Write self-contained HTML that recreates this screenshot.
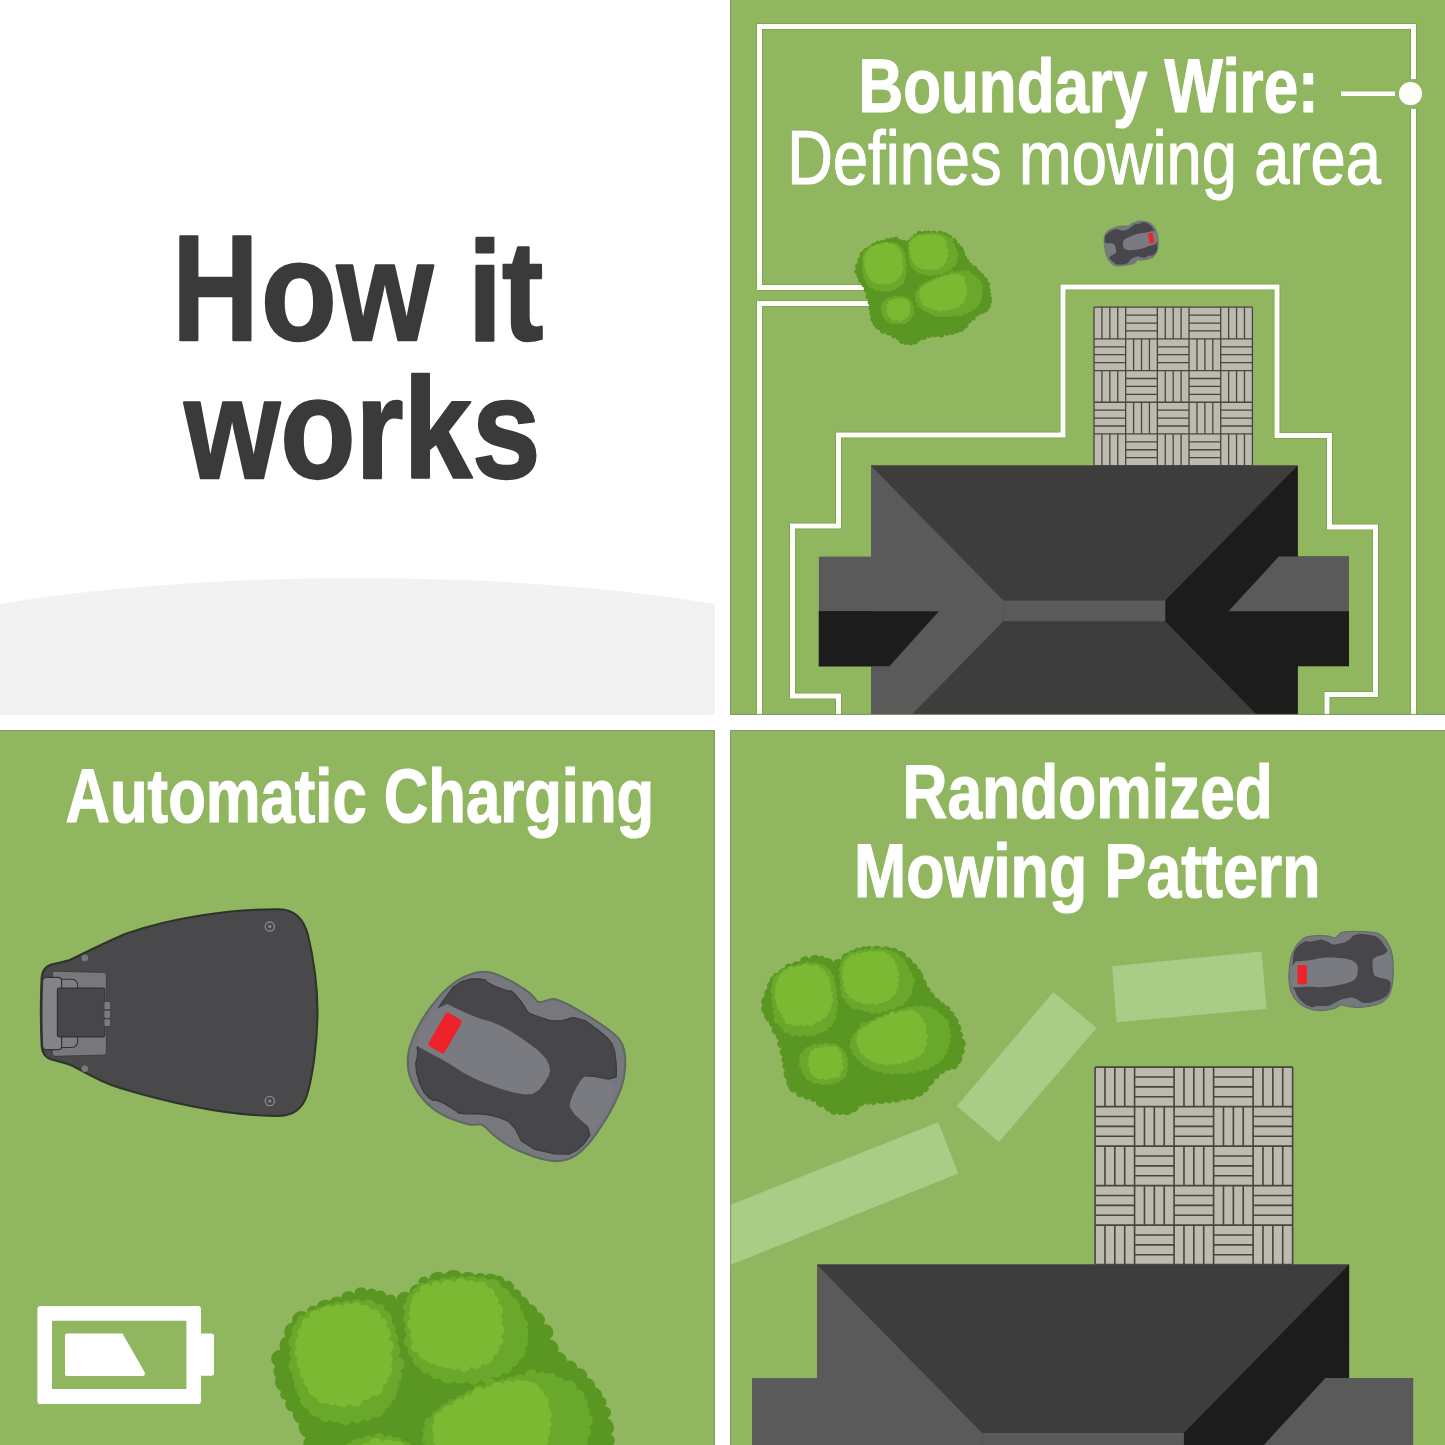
<!DOCTYPE html>
<html><head><meta charset="utf-8"><style>
html,body{margin:0;padding:0;background:#fff;}
svg{display:block;}
</style></head><body>
<svg width="1445" height="1445" viewBox="0 0 1445 1445">
<defs>
<clipPath id="cTL"><rect x="0" y="0" width="715" height="715"/></clipPath>
<clipPath id="cTR"><rect x="730" y="0" width="715" height="715"/></clipPath>
<clipPath id="cBL"><rect x="0" y="730" width="715" height="715"/></clipPath>
<clipPath id="cBR"><rect x="730" y="730" width="715" height="715"/></clipPath>
</defs>
<rect width="1445" height="1445" fill="#ffffff"/>

<!-- top-left -->
<g clip-path="url(#cTL)">
<ellipse cx="357" cy="710" rx="600" ry="132" fill="#f2f2f2"/>
<text transform="translate(172.13,340.00) scale(0.8079,1.0200)" font-family="Liberation Sans" font-weight="bold" font-size="148" fill="#3a3a3a" stroke="#3a3a3a" stroke-width="2.4" stroke-linejoin="round" >H</text>
<text transform="translate(261.01,340.00) scale(0.8378,0.9520)" font-family="Liberation Sans" font-weight="bold" font-size="148" fill="#3a3a3a" stroke="#3a3a3a" stroke-width="2.4" stroke-linejoin="round" >ow it</text>
<text transform="translate(184.36,477.80) scale(0.8325,0.9620)" font-family="Liberation Sans" font-weight="bold" font-size="148" fill="#3a3a3a" stroke="#3a3a3a" stroke-width="2.4" stroke-linejoin="round" >works</text>
</g>

<!-- top-right -->
<g clip-path="url(#cTR)">
<rect x="730" y="0" width="715" height="715" fill="#90b660"/>
<g transform="translate(871,465.6)">
<g>
<rect x="0" y="0" width="426.7" height="290.8" fill="#3d3d3d"/>
<rect x="-52.1" y="91" width="70" height="109.7" fill="#5a5a5a"/>
<polygon points="-52.1,145.6 67.9,145.6 18.4,200.7 -52.1,200.7" fill="#1c1c1c"/>
<rect x="400" y="91" width="78" height="109.7" fill="#1c1c1c"/>
<polygon points="0,0 132.6,135 132.6,155.7 0,290.8" fill="#5a5a5a"/>
<polygon points="0,0 426.7,0 294.2,135 132.6,135" fill="#3d3d3d"/>
<polygon points="132.6,155.7 294.2,155.7 426.7,290.8 0,290.8" fill="#3d3d3d"/>
<polygon points="426.7,0 294.2,135 294.2,155.7 426.7,290.8" fill="#1c1c1c"/>
<rect x="132.6" y="135" width="161.6" height="20.7" fill="#5a5a5a"/>
<polygon points="-52.1,145.6 67.9,145.6 18.4,200.7 -52.1,200.7" fill="#1c1c1c"/>
<polygon points="407.7,91 478,91 478,145.6 357.5,145.6" fill="#5a5a5a"/>
<rect x="223" y="-158.4" width="158.4" height="158.4" fill="#bdbbb0"/>
<path d="M230.92,-158.40V-126.72M238.84,-158.40V-126.72M246.76,-158.40V-126.72M254.68,-150.48H286.36M254.68,-142.56H286.36M254.68,-134.64H286.36M294.28,-158.40V-126.72M302.20,-158.40V-126.72M310.12,-158.40V-126.72M318.04,-150.48H349.72M318.04,-142.56H349.72M318.04,-134.64H349.72M357.64,-158.40V-126.72M365.56,-158.40V-126.72M373.48,-158.40V-126.72M223.00,-118.80H254.68M223.00,-110.88H254.68M223.00,-102.96H254.68M262.60,-126.72V-95.04M270.52,-126.72V-95.04M278.44,-126.72V-95.04M286.36,-118.80H318.04M286.36,-110.88H318.04M286.36,-102.96H318.04M325.96,-126.72V-95.04M333.88,-126.72V-95.04M341.80,-126.72V-95.04M349.72,-118.80H381.40M349.72,-110.88H381.40M349.72,-102.96H381.40M230.92,-95.04V-63.36M238.84,-95.04V-63.36M246.76,-95.04V-63.36M254.68,-87.12H286.36M254.68,-79.20H286.36M254.68,-71.28H286.36M294.28,-95.04V-63.36M302.20,-95.04V-63.36M310.12,-95.04V-63.36M318.04,-87.12H349.72M318.04,-79.20H349.72M318.04,-71.28H349.72M357.64,-95.04V-63.36M365.56,-95.04V-63.36M373.48,-95.04V-63.36M223.00,-55.44H254.68M223.00,-47.52H254.68M223.00,-39.60H254.68M262.60,-63.36V-31.68M270.52,-63.36V-31.68M278.44,-63.36V-31.68M286.36,-55.44H318.04M286.36,-47.52H318.04M286.36,-39.60H318.04M325.96,-63.36V-31.68M333.88,-63.36V-31.68M341.80,-63.36V-31.68M349.72,-55.44H381.40M349.72,-47.52H381.40M349.72,-39.60H381.40M230.92,-31.68V-0.00M238.84,-31.68V-0.00M246.76,-31.68V-0.00M254.68,-23.76H286.36M254.68,-15.84H286.36M254.68,-7.92H286.36M294.28,-31.68V-0.00M302.20,-31.68V-0.00M310.12,-31.68V-0.00M318.04,-23.76H349.72M318.04,-15.84H349.72M318.04,-7.92H349.72M357.64,-31.68V-0.00M365.56,-31.68V-0.00M373.48,-31.68V-0.00M223.00,-158.40V0.00M223.00,-158.40H381.40M254.68,-158.40V0.00M223.00,-126.72H381.40M286.36,-158.40V0.00M223.00,-95.04H381.40M318.04,-158.40V0.00M223.00,-63.36H381.40M349.72,-158.40V0.00M223.00,-31.68H381.40M381.40,-158.40V0.00M223.00,0.00H381.40" stroke="#46453f" stroke-width="1.3" fill="none"/>
</g></g>
<path d="M759.5,288 V26.5 H1413.5 V79 M1413.5,109 V716 M757,287.5 H880 M880,303.5 H759.5 V716 M838.5,716 V696 H792.5 V526 H838.5 V435 H1063 V287 H1277 V435.5 H1329.5 V527 H1375.5 V694.5 H1327 V716" fill="none" stroke="#7d9f55" stroke-width="6.6" stroke-linejoin="miter"/><path d="M759.5,288 V26.5 H1413.5 V79 M1413.5,109 V716 M757,287.5 H880 M880,303.5 H759.5 V716 M838.5,716 V696 H792.5 V526 H838.5 V435 H1063 V287 H1277 V435.5 H1329.5 V527 H1375.5 V694.5 H1327 V716" fill="none" stroke="#fdfef8" stroke-width="5" stroke-linejoin="miter"/><path d="M1341,93.8 H1395" stroke="#fdfef8" stroke-width="4.5"/><circle cx="1410.5" cy="93.6" r="12.2" fill="#fdfef8" stroke="#7d9f55" stroke-width="0.8"/>
<g transform="translate(854.7,230) scale(0.673)"><path fill="#5a9622" d="M12.5,31.3A4.1,4.1 0 0 1 18.4,27.3A3.8,3.8 0 0 1 23.7,23.7A5.8,5.8 0 0 1 31.1,19.3A3.0,3.0 0 0 1 36.9,17.8A5.0,5.0 0 0 1 44.7,15.6A4.0,4.0 0 0 1 51.8,13.6A3.1,3.1 0 0 1 57.5,12.1A3.9,3.9 0 0 1 65.0,13.6A4.0,4.0 0 0 1 70.2,16.0A4.0,4.0 0 0 1 77.2,18.9A3.3,3.3 0 0 1 81.4,14.7A3.6,3.6 0 0 1 85.6,10.4A5.3,5.3 0 0 1 91.6,6.0A5.0,5.0 0 0 1 100.8,3.3A3.7,3.7 0 0 1 106.8,2.3A4.3,4.3 0 0 1 113.5,2.6A6.2,6.2 0 0 1 122.1,3.0A7.2,7.2 0 0 1 132.2,3.6A5.7,5.7 0 0 1 139.3,7.2A4.3,4.3 0 0 1 144.9,12.2A6.2,6.2 0 0 1 152.4,19.3A3.4,3.4 0 0 1 156.5,23.4A6.7,6.7 0 0 1 161.8,31.0A5.1,5.1 0 0 1 163.2,37.9A3.4,3.4 0 0 1 166.6,43.1A3.4,3.4 0 0 1 170.1,48.2A3.9,3.9 0 0 1 174.8,53.3A5.3,5.3 0 0 1 182.5,59.0A4.0,4.0 0 0 1 187.1,63.5A5.4,5.4 0 0 1 192.6,69.8A4.8,4.8 0 0 1 197.2,76.9A3.7,3.7 0 0 1 198.8,84.1A5.0,5.0 0 0 1 200.7,92.1A3.5,3.5 0 0 1 201.9,97.9A3.8,3.8 0 0 1 203.2,103.6A4.7,4.7 0 0 1 201.6,109.8A6.0,6.0 0 0 1 198.2,118.0A4.3,4.3 0 0 1 193.2,122.6A4.7,4.7 0 0 1 186.3,124.1A5.4,5.4 0 0 1 179.4,128.3A4.0,4.0 0 0 1 173.9,133.8A5.1,5.1 0 0 1 169.2,139.0A6.5,6.5 0 0 1 163.5,146.6A6.1,6.1 0 0 1 156.2,150.9A4.7,4.7 0 0 1 149.7,152.6A5.0,5.0 0 0 1 141.5,154.5A4.9,4.9 0 0 1 133.5,155.6A5.2,5.2 0 0 1 123.8,157.0A6.0,6.0 0 0 1 114.7,157.7A3.6,3.6 0 0 1 107.8,158.2A5.1,5.1 0 0 1 98.5,161.3A3.4,3.4 0 0 1 93.8,165.4A3.9,3.9 0 0 1 87.7,169.3A5.4,5.4 0 0 1 78.5,168.5A3.2,3.2 0 0 1 72.2,168.0A3.9,3.9 0 0 1 65.9,163.6A3.1,3.1 0 0 1 61.5,159.7A4.5,4.5 0 0 1 54.0,155.5A5.5,5.5 0 0 1 45.3,152.3A4.2,4.2 0 0 1 37.9,148.5A7.0,7.0 0 0 1 29.8,143.1A4.3,4.3 0 0 1 26.9,137.1A4.8,4.8 0 0 1 25.0,128.3A4.8,4.8 0 0 1 23.2,120.1A4.9,4.9 0 0 1 22.0,111.8A4.6,4.6 0 0 1 20.9,104.1A5.0,5.0 0 0 1 18.3,94.9A7.2,7.2 0 0 1 13.7,85.9A5.9,5.9 0 0 1 9.7,79.1A5.4,5.4 0 0 1 5.3,71.5A3.6,3.6 0 0 1 3.0,66.2A4.6,4.6 0 0 1 2.3,57.4A4.6,4.6 0 0 1 5.1,49.1A6.1,6.1 0 0 1 8.5,39.4A5.1,5.1 0 0 1 12.5,31.3Z"/>
<path fill="#6aa82b" d="M19.7,27.4A4.7,4.7 0 0 1 27.2,23.6A3.7,3.7 0 0 1 32.5,21.8A3.7,3.7 0 0 1 37.3,20.5A5.4,5.4 0 0 1 46.1,19.4A5.2,5.2 0 0 1 53.2,19.1A4.1,4.1 0 0 1 58.7,19.8A5.2,5.2 0 0 1 65.2,22.6A2.9,2.9 0 0 1 68.6,26.1A3.9,3.9 0 0 1 71.9,32.3A5.0,5.0 0 0 1 74.1,41.0A4.7,4.7 0 0 1 75.3,49.5A4.3,4.3 0 0 1 75.7,57.3A3.9,3.9 0 0 1 76.0,63.3A4.7,4.7 0 0 1 74.8,69.6A3.9,3.9 0 0 1 73.5,75.0A5.0,5.0 0 0 1 69.0,81.8A4.7,4.7 0 0 1 63.0,85.7A5.7,5.7 0 0 1 55.4,88.5A3.3,3.3 0 0 1 49.4,90.1A3.9,3.9 0 0 1 43.5,90.1A6.0,6.0 0 0 1 35.3,89.3A6.3,6.3 0 0 1 26.7,86.8A5.8,5.8 0 0 1 20.2,81.3A5.0,5.0 0 0 1 16.4,74.1A4.5,4.5 0 0 1 13.8,66.2A5.6,5.6 0 0 1 12.3,58.4A3.4,3.4 0 0 1 12.2,52.5A5.0,5.0 0 0 1 12.2,45.5A4.7,4.7 0 0 1 12.6,39.1A3.0,3.0 0 0 1 13.4,34.2A2.9,2.9 0 0 1 16.2,30.2A3.4,3.4 0 0 1 19.7,27.4Z M86.5,10.8A4.9,4.9 0 0 1 93.8,7.8A3.6,3.6 0 0 1 99.3,6.5A3.9,3.9 0 0 1 104.6,5.6A3.3,3.3 0 0 1 110.1,5.1A6.3,6.3 0 0 1 118.8,4.6A5.2,5.2 0 0 1 126.9,5.9A3.5,3.5 0 0 1 132.3,7.3A5.3,5.3 0 0 1 139.2,12.0A4.5,4.5 0 0 1 145.0,18.9A4.6,4.6 0 0 1 148.6,25.6A3.5,3.5 0 0 1 151.1,31.4A3.6,3.6 0 0 1 151.9,38.6A3.8,3.8 0 0 1 151.5,43.9A2.7,2.7 0 0 1 150.3,48.7A5.5,5.5 0 0 1 145.1,55.9A5.1,5.1 0 0 1 138.9,60.1A4.5,4.5 0 0 1 132.5,63.1A5.1,5.1 0 0 1 123.9,65.3A4.2,4.2 0 0 1 117.3,66.0A5.5,5.5 0 0 1 108.7,66.5A5.8,5.8 0 0 1 100.6,64.6A3.0,3.0 0 0 1 95.2,62.7A3.8,3.8 0 0 1 90.1,59.6A3.3,3.3 0 0 1 85.9,55.4A3.4,3.4 0 0 1 83.1,50.2A5.0,5.0 0 0 1 81.2,43.2A3.8,3.8 0 0 1 80.6,37.3A4.3,4.3 0 0 1 80.0,30.6A3.8,3.8 0 0 1 80.0,25.2A6.3,6.3 0 0 1 81.3,16.6A4.8,4.8 0 0 1 86.5,10.8Z M95.2,87.5A4.0,4.0 0 0 1 100.8,82.5A4.2,4.2 0 0 1 106.5,78.5A4.4,4.4 0 0 1 112.8,75.4A4.6,4.6 0 0 1 119.9,72.1A3.7,3.7 0 0 1 126.3,69.8A4.1,4.1 0 0 1 133.1,67.6A4.7,4.7 0 0 1 139.6,65.4A4.5,4.5 0 0 1 148.2,63.2A5.0,5.0 0 0 1 155.9,62.1A5.1,5.1 0 0 1 164.3,62.1A4.5,4.5 0 0 1 172.5,65.3A3.5,3.5 0 0 1 177.7,68.2A4.7,4.7 0 0 1 183.3,72.9A5.4,5.4 0 0 1 187.5,80.4A4.3,4.3 0 0 1 188.9,88.6A4.1,4.1 0 0 1 188.9,94.0A3.7,3.7 0 0 1 188.0,99.3A5.0,5.0 0 0 1 186.3,105.9A2.7,2.7 0 0 1 183.6,110.3A3.3,3.3 0 0 1 180.1,115.0A2.7,2.7 0 0 1 175.9,118.0A5.3,5.3 0 0 1 169.2,121.8A4.7,4.7 0 0 1 161.5,124.5A4.6,4.6 0 0 1 153.1,126.3A3.4,3.4 0 0 1 147.6,127.2A5.7,5.7 0 0 1 139.7,127.7A5.4,5.4 0 0 1 132.0,127.7A3.1,3.1 0 0 1 126.6,127.5A4.6,4.6 0 0 1 118.1,125.8A6.5,6.5 0 0 1 109.8,122.6A3.7,3.7 0 0 1 104.7,119.8A6.0,6.0 0 0 1 97.7,114.3A3.4,3.4 0 0 1 93.7,109.1A3.5,3.5 0 0 1 91.0,102.8A5.9,5.9 0 0 1 91.2,93.9A4.6,4.6 0 0 1 95.2,87.5Z M43.0,106.4A3.0,3.0 0 0 1 47.1,103.3A6.0,6.0 0 0 1 55.3,100.5A4.3,4.3 0 0 1 62.8,99.6A5.2,5.2 0 0 1 71.1,99.6A2.8,2.8 0 0 1 76.0,101.2A4.7,4.7 0 0 1 82.4,106.0A2.6,2.6 0 0 1 84.7,110.7A4.8,4.8 0 0 1 86.4,119.0A3.4,3.4 0 0 1 85.9,125.8A4.2,4.2 0 0 1 83.5,131.5A4.4,4.4 0 0 1 78.1,135.8A4.8,4.8 0 0 1 69.7,138.0A3.7,3.7 0 0 1 63.7,138.5A4.0,4.0 0 0 1 58.3,138.1A3.7,3.7 0 0 1 51.5,136.4A4.1,4.1 0 0 1 46.4,133.5A3.3,3.3 0 0 1 43.4,129.1A3.4,3.4 0 0 1 41.2,124.0A3.6,3.6 0 0 1 40.0,119.1A3.4,3.4 0 0 1 40.0,113.3A4.7,4.7 0 0 1 43.0,106.4Z"/>
<path fill="#7bb933" d="M22.5,28.4A5.4,5.4 0 0 1 28.6,24.6A4.8,4.8 0 0 1 36.6,22.1A3.5,3.5 0 0 1 42.5,21.4A3.9,3.9 0 0 1 50.2,21.0A4.3,4.3 0 0 1 57.4,22.3A4.3,4.3 0 0 1 63.1,26.3A3.8,3.8 0 0 1 66.7,31.2A3.2,3.2 0 0 1 68.4,36.9A3.0,3.0 0 0 1 69.4,41.5A2.5,2.5 0 0 1 70.2,46.5A2.7,2.7 0 0 1 70.6,51.3A3.9,3.9 0 0 1 70.6,58.7A3.3,3.3 0 0 1 69.2,64.1A2.6,2.6 0 0 1 66.5,68.4A2.5,2.5 0 0 1 63.5,72.2A4.5,4.5 0 0 1 56.8,76.3A4.4,4.4 0 0 1 49.2,78.7A4.6,4.6 0 0 1 42.2,79.7A3.6,3.6 0 0 1 36.6,79.9A3.8,3.8 0 0 1 31.3,78.4A3.7,3.7 0 0 1 26.5,75.6A4.3,4.3 0 0 1 22.2,71.1A3.7,3.7 0 0 1 19.9,66.4A3.7,3.7 0 0 1 17.6,60.6A3.2,3.2 0 0 1 16.0,55.2A6.2,6.2 0 0 1 15.3,47.0A4.5,4.5 0 0 1 16.1,38.7A4.5,4.5 0 0 1 18.7,32.6A3.8,3.8 0 0 1 22.5,28.4Z M88.3,13.1A2.9,2.9 0 0 1 92.6,11.2A3.9,3.9 0 0 1 100.0,9.0A5.6,5.6 0 0 1 108.0,7.7A4.8,4.8 0 0 1 115.0,7.3A4.6,4.6 0 0 1 122.2,8.0A4.7,4.7 0 0 1 129.1,10.9A3.4,3.4 0 0 1 132.6,14.7A3.4,3.4 0 0 1 135.0,20.8A4.4,4.4 0 0 1 136.3,27.1A4.4,4.4 0 0 1 137.0,34.9A4.0,4.0 0 0 1 136.1,42.5A4.4,4.4 0 0 1 133.1,49.6A4.6,4.6 0 0 1 128.1,54.1A4.4,4.4 0 0 1 120.6,56.9A4.9,4.9 0 0 1 113.6,58.0A5.4,5.4 0 0 1 106.3,58.0A3.4,3.4 0 0 1 100.9,57.3A2.8,2.8 0 0 1 96.7,55.5A3.1,3.1 0 0 1 92.3,53.0A4.0,4.0 0 0 1 88.0,48.9A3.4,3.4 0 0 1 85.5,44.7A5.0,5.0 0 0 1 83.4,37.3A4.4,4.4 0 0 1 82.9,30.6A3.6,3.6 0 0 1 83.1,23.6A3.7,3.7 0 0 1 84.8,16.9A2.9,2.9 0 0 1 88.3,13.1Z M100.7,84.8A5.5,5.5 0 0 1 107.1,81.0A3.1,3.1 0 0 1 112.1,78.2A4.8,4.8 0 0 1 118.2,75.3A2.9,2.9 0 0 1 122.3,73.4A3.5,3.5 0 0 1 126.8,71.6A3.8,3.8 0 0 1 132.1,69.8A4.0,4.0 0 0 1 139.0,67.9A5.2,5.2 0 0 1 146.1,66.7A4.4,4.4 0 0 1 153.1,66.8A2.8,2.8 0 0 1 158.3,68.9A3.3,3.3 0 0 1 162.0,74.4A3.9,3.9 0 0 1 164.0,80.4A3.9,3.9 0 0 1 165.2,86.6A2.9,2.9 0 0 1 165.5,91.6A4.3,4.3 0 0 1 164.2,99.4A3.1,3.1 0 0 1 162.1,104.2A4.8,4.8 0 0 1 156.8,110.5A5.8,5.8 0 0 1 149.8,114.8A2.3,2.3 0 0 1 145.3,116.0A4.4,4.4 0 0 1 139.2,117.8A5.5,5.5 0 0 1 131.5,118.4A4.4,4.4 0 0 1 123.3,118.1A4.6,4.6 0 0 1 117.0,117.1A3.8,3.8 0 0 1 111.8,115.3A3.9,3.9 0 0 1 106.9,113.2A4.7,4.7 0 0 1 101.0,107.4A3.2,3.2 0 0 1 98.6,102.6A4.0,4.0 0 0 1 96.9,96.1A3.7,3.7 0 0 1 96.8,91.2A4.8,4.8 0 0 1 100.7,84.8Z M52.7,105.2A4.3,4.3 0 0 1 58.3,103.4A4.6,4.6 0 0 1 64.5,102.6A3.6,3.6 0 0 1 70.1,102.5A3.1,3.1 0 0 1 74.7,103.0A2.5,2.5 0 0 1 78.9,105.6A5.3,5.3 0 0 1 80.9,113.1A3.5,3.5 0 0 1 81.4,118.8A5.5,5.5 0 0 1 79.8,126.6A3.5,3.5 0 0 1 76.1,130.4A3.2,3.2 0 0 1 71.0,132.5A3.3,3.3 0 0 1 64.5,133.4A3.9,3.9 0 0 1 59.2,133.2A3.1,3.1 0 0 1 53.9,131.0A4.9,4.9 0 0 1 49.9,124.2A4.7,4.7 0 0 1 48.7,116.3A4.4,4.4 0 0 1 49.8,108.8A3.1,3.1 0 0 1 52.7,105.2Z"/></g>
<g transform="translate(1131,243.5) rotate(170) scale(0.52)"><g transform="translate(-62,-51)">
<path d="M9.04,51.12 L9.26,48.68 L9.53,46.29 L9.84,43.96 L10.20,41.70 L10.60,39.50 L11.17,37.19 L11.92,34.76 L12.85,32.23 L13.95,29.58 L15.28,27.08 L16.84,24.74 L18.64,22.56 L20.66,20.54 L22.76,18.90 L24.94,17.65 L27.19,16.79 L29.51,16.31 L32.04,15.96 L34.76,15.72 L37.69,15.60 L40.81,15.60 L43.50,15.66 L45.75,15.77 L47.56,15.94 L48.94,16.16 L50.21,16.45 L51.37,16.80 L52.43,17.21 L53.38,17.69 L54.29,17.83 L55.16,17.64 L56.00,17.12 L56.80,16.27 L57.60,15.44 L58.40,14.63 L59.20,13.84 L60.00,13.06 L61.38,12.44 L63.34,11.96 L65.89,11.64 L69.01,11.46 L72.53,11.37 L76.42,11.37 L80.71,11.46 L85.39,11.64 L89.48,11.92 L92.98,12.31 L95.89,12.80 L98.21,13.40 L100.35,14.36 L102.30,15.67 L104.06,17.34 L105.64,19.36 L107.09,21.54 L108.41,23.88 L109.61,26.38 L110.69,29.03 L111.57,31.99 L112.28,35.26 L112.79,38.85 L113.11,42.75 L113.27,46.84 L113.27,51.13 L113.11,55.61 L112.79,60.29 L112.28,64.49 L111.57,68.23 L110.69,71.50 L109.61,74.30 L108.22,76.79 L106.51,78.96 L104.48,80.82 L102.12,82.38 L99.19,83.74 L95.68,84.91 L91.59,85.90 L86.91,86.70 L82.63,87.22 L78.74,87.46 L75.25,87.41 L72.15,87.09 L69.43,86.71 L67.09,86.29 L65.14,85.81 L63.56,85.29 L62.12,85.08 L60.81,85.19 L59.62,85.62 L58.57,86.38 L57.65,87.00 L56.85,87.50 L56.18,87.88 L55.62,88.12 L54.44,88.47 L52.61,88.91 L50.15,89.44 L47.05,90.06 L43.95,90.45 L40.85,90.60 L37.75,90.51 L34.65,90.19 L31.54,89.52 L28.43,88.51 L25.31,87.15 L22.19,85.45 L19.45,83.59 L17.10,81.56 L15.14,79.38 L13.56,77.03 L12.26,74.67 L11.22,72.31 L10.45,69.94 L9.95,67.56 L9.54,65.21 L9.23,62.87 L9.01,60.55 L8.89,58.25 L8.85,55.91 L8.90,53.54Z" fill="#77787d" stroke="#5f6862" stroke-width="1"/>
<path d="M14.20,32.72 L16.40,28.38 L19.52,24.95 L23.58,22.45 L26.38,21.50 L27.92,22.10 L31.35,21.95 L36.65,21.05 L39.60,20.35 L40.20,19.85 L42.52,20.30 L46.58,21.70 L49.55,23.02 L51.45,24.27 L53.05,24.90 L54.35,24.90 L58.12,24.27 L64.38,23.02 L69.53,20.22 L73.57,15.87 L79.80,14.17 L88.20,15.12 L93.95,16.23 L97.05,17.48 L100.15,20.12 L103.25,24.17 L105.60,27.75 L107.20,30.85 L104.40,33.65 L97.20,36.15 L93.30,38.65 L92.70,41.15 L92.55,44.72 L92.85,49.38 L93.47,52.95 L94.43,55.45 L98.80,57.48 L106.60,59.02 L110.33,62.45 L109.97,67.75 L108.55,72.28 L106.05,76.03 L99.82,79.45 L89.88,82.55 L82.10,82.22 L76.50,78.47 L71.53,76.92 L67.17,77.58 L63.25,78.53 L59.75,79.78 L55.65,81.80 L50.95,84.60 L47.83,85.85 L46.27,85.55 L43.17,85.40 L38.53,85.40 L35.40,85.85 L33.80,86.75 L31.15,86.58 L27.45,85.33 L23.58,82.68 L19.52,78.62 L17.02,75.05 L16.07,71.95 L14.95,69.55 L13.65,67.85 L13.03,58.98 L13.07,42.92Z" fill="#47474b" stroke="#3a3a3d" stroke-width="0.6"/>
<path d="M15.75,41.47 L25.25,40.83 L33.10,39.73 L39.30,38.17 L45.55,37.40 L51.85,37.40 L58.90,37.88 L66.70,38.82 L72.15,40.38 L75.25,42.53 L77.10,44.85 L77.70,47.35 L77.70,50.95 L77.10,55.65 L75.25,59.08 L72.15,61.22 L66.70,63.22 L58.90,65.08 L51.85,66.33 L45.55,66.97 L39.30,67.15 L33.10,66.85 L26.40,66.85 L19.20,67.15 L14.45,67.22 L12.15,67.08 L11.00,60.70 L11.00,48.10Z" fill="#7a7b80"/>
<path d="M97.32,36.62 L104.78,35.07 L109.12,35.70 L110.38,38.50 L111.00,44.42 L111.00,53.48 L110.62,58.45 L109.88,59.35 L105.85,59.02 L98.55,57.48 L94.43,55.45 L93.47,52.95 L92.85,49.38 L92.55,44.72 L92.70,41.15 L93.30,38.65Z" fill="#7a7b80"/>
<path d="M19,44.9 H25.3 Q26.8,44.9 26.8,46.4 V62.7 Q26.8,64.2 25.3,64.2 H19 Q17.5,64.2 17.5,62.7 V46.4 Q17.5,44.9 19,44.9 Z" fill="#ee2229"/>
</g></g>
<text transform="translate(858.54,111.90) scale(0.8144,1.0000)" font-family="Liberation Sans" font-weight="bold" font-size="76" fill="#ffffff" stroke="#ffffff" stroke-width="1.2" stroke-linejoin="round" >Boundary Wire:</text>
<text transform="translate(787.31,184.00) scale(0.8315,1.0000)" font-family="Liberation Sans" font-weight="normal" font-size="76" fill="#ffffff" stroke="#ffffff" stroke-width="1.2" stroke-linejoin="round" >Defines mowing area</text>
</g>

<!-- bottom-left -->
<g clip-path="url(#cBL)">
<rect x="0" y="730" width="715" height="715" fill="#90b660"/>

<path d="M279,909.3 C295,909.5 304,920 308,935 C314,960 317.5,990 317.5,1012 C317.5,1040 313,1075 307,1095 C303,1108 294,1115.5 279,1116 C230,1116 170,1103 120,1088 C100,1082 84,1072 73,1066 C64,1062 56,1061 50,1059 C45,1057 42,1052 41.6,1046 C40.5,1020 40.5,1000 41.6,978 C42,972 45,967 50,965 C56,963 64,962 70,960 C82,954 100,945 125,934 C170,918 230,909 279,909.3 Z" fill="#49494b" stroke="#2d3429" stroke-width="2"/>
<path d="M55,971.2 L104,972.5 Q106.4,972.5 106.4,975 L106.4,1052.5 Q106.4,1055 104,1055 L55,1056.3 Q52.4,1056.3 52.4,1053.7 L52.4,973.8 Q52.4,971.2 55,971.2 Z" fill="#77787c" stroke="#38383b" stroke-width="0.8"/>
<path d="M60,979.3 H71.5 Q77.6,979.5 77.6,986 V990 H60 Z" fill="#7d7e82" stroke="#333336" stroke-width="1.1"/>
<path d="M60,1047.5 H71.5 Q77.6,1047.3 77.6,1041 V1036 H60 Z" fill="#7d7e82" stroke="#333336" stroke-width="1.1"/>
<path d="M46,977.4 H58.5 Q61.6,977.4 61.6,980.5 V1046.6 Q61.6,1049.7 58.5,1049.7 H46 Q42.9,1049.7 42.6,1046.6 Q41.2,1013 42.6,980.5 Q42.9,977.4 46,977.4 Z" fill="#838488" stroke="#333336" stroke-width="1.2"/>
<rect x="57.4" y="988.2" width="47.4" height="48.6" rx="1.8" fill="#47474b" stroke="#333336" stroke-width="1.2"/>
<rect x="104" y="1001.5" width="6.6" height="8.2" rx="1.5" fill="#7a7b7f" stroke="#3a3a3d" stroke-width="0.7"/>
<rect x="104" y="1010.3" width="6.6" height="8" rx="1.5" fill="#7a7b7f" stroke="#3a3a3d" stroke-width="0.7"/>
<rect x="104" y="1018.8" width="6.6" height="7.8" rx="1.5" fill="#7a7b7f" stroke="#3a3a3d" stroke-width="0.7"/>
<circle cx="84.8" cy="957.9" r="3.3" fill="#77787c"/>
<circle cx="84.8" cy="1068.8" r="3.3" fill="#77787c"/>
<circle cx="269.8" cy="926.6" r="4.6" fill="none" stroke="#8a8b8f" stroke-width="1.3"/>
<circle cx="269.8" cy="926.6" r="1.6" fill="#8a8b8f"/>
<circle cx="269.8" cy="1101" r="4.6" fill="none" stroke="#8a8b8f" stroke-width="1.3"/>
<circle cx="269.8" cy="1101" r="1.6" fill="#8a8b8f"/>

<g transform="translate(517.7,1066.7) rotate(30) scale(2.0)"><g transform="translate(-62,-51)">
<path d="M9.04,51.12 L9.26,48.68 L9.53,46.29 L9.84,43.96 L10.20,41.70 L10.60,39.50 L11.17,37.19 L11.92,34.76 L12.85,32.23 L13.95,29.58 L15.28,27.08 L16.84,24.74 L18.64,22.56 L20.66,20.54 L22.76,18.90 L24.94,17.65 L27.19,16.79 L29.51,16.31 L32.04,15.96 L34.76,15.72 L37.69,15.60 L40.81,15.60 L43.50,15.66 L45.75,15.77 L47.56,15.94 L48.94,16.16 L50.21,16.45 L51.37,16.80 L52.43,17.21 L53.38,17.69 L54.29,17.83 L55.16,17.64 L56.00,17.12 L56.80,16.27 L57.60,15.44 L58.40,14.63 L59.20,13.84 L60.00,13.06 L61.38,12.44 L63.34,11.96 L65.89,11.64 L69.01,11.46 L72.53,11.37 L76.42,11.37 L80.71,11.46 L85.39,11.64 L89.48,11.92 L92.98,12.31 L95.89,12.80 L98.21,13.40 L100.35,14.36 L102.30,15.67 L104.06,17.34 L105.64,19.36 L107.09,21.54 L108.41,23.88 L109.61,26.38 L110.69,29.03 L111.57,31.99 L112.28,35.26 L112.79,38.85 L113.11,42.75 L113.27,46.84 L113.27,51.13 L113.11,55.61 L112.79,60.29 L112.28,64.49 L111.57,68.23 L110.69,71.50 L109.61,74.30 L108.22,76.79 L106.51,78.96 L104.48,80.82 L102.12,82.38 L99.19,83.74 L95.68,84.91 L91.59,85.90 L86.91,86.70 L82.63,87.22 L78.74,87.46 L75.25,87.41 L72.15,87.09 L69.43,86.71 L67.09,86.29 L65.14,85.81 L63.56,85.29 L62.12,85.08 L60.81,85.19 L59.62,85.62 L58.57,86.38 L57.65,87.00 L56.85,87.50 L56.18,87.88 L55.62,88.12 L54.44,88.47 L52.61,88.91 L50.15,89.44 L47.05,90.06 L43.95,90.45 L40.85,90.60 L37.75,90.51 L34.65,90.19 L31.54,89.52 L28.43,88.51 L25.31,87.15 L22.19,85.45 L19.45,83.59 L17.10,81.56 L15.14,79.38 L13.56,77.03 L12.26,74.67 L11.22,72.31 L10.45,69.94 L9.95,67.56 L9.54,65.21 L9.23,62.87 L9.01,60.55 L8.89,58.25 L8.85,55.91 L8.90,53.54Z" fill="#77787d" stroke="#5f6862" stroke-width="1"/>
<path d="M14.20,32.72 L16.40,28.38 L19.52,24.95 L23.58,22.45 L26.38,21.50 L27.92,22.10 L31.35,21.95 L36.65,21.05 L39.60,20.35 L40.20,19.85 L42.52,20.30 L46.58,21.70 L49.55,23.02 L51.45,24.27 L53.05,24.90 L54.35,24.90 L58.12,24.27 L64.38,23.02 L69.53,20.22 L73.57,15.87 L79.80,14.17 L88.20,15.12 L93.95,16.23 L97.05,17.48 L100.15,20.12 L103.25,24.17 L105.60,27.75 L107.20,30.85 L104.40,33.65 L97.20,36.15 L93.30,38.65 L92.70,41.15 L92.55,44.72 L92.85,49.38 L93.47,52.95 L94.43,55.45 L98.80,57.48 L106.60,59.02 L110.33,62.45 L109.97,67.75 L108.55,72.28 L106.05,76.03 L99.82,79.45 L89.88,82.55 L82.10,82.22 L76.50,78.47 L71.53,76.92 L67.17,77.58 L63.25,78.53 L59.75,79.78 L55.65,81.80 L50.95,84.60 L47.83,85.85 L46.27,85.55 L43.17,85.40 L38.53,85.40 L35.40,85.85 L33.80,86.75 L31.15,86.58 L27.45,85.33 L23.58,82.68 L19.52,78.62 L17.02,75.05 L16.07,71.95 L14.95,69.55 L13.65,67.85 L13.03,58.98 L13.07,42.92Z" fill="#47474b" stroke="#3a3a3d" stroke-width="0.6"/>
<path d="M15.75,41.47 L25.25,40.83 L33.10,39.73 L39.30,38.17 L45.55,37.40 L51.85,37.40 L58.90,37.88 L66.70,38.82 L72.15,40.38 L75.25,42.53 L77.10,44.85 L77.70,47.35 L77.70,50.95 L77.10,55.65 L75.25,59.08 L72.15,61.22 L66.70,63.22 L58.90,65.08 L51.85,66.33 L45.55,66.97 L39.30,67.15 L33.10,66.85 L26.40,66.85 L19.20,67.15 L14.45,67.22 L12.15,67.08 L11.00,60.70 L11.00,48.10Z" fill="#7a7b80"/>
<path d="M97.32,36.62 L104.78,35.07 L109.12,35.70 L110.38,38.50 L111.00,44.42 L111.00,53.48 L110.62,58.45 L109.88,59.35 L105.85,59.02 L98.55,57.48 L94.43,55.45 L93.47,52.95 L92.85,49.38 L92.55,44.72 L92.70,41.15 L93.30,38.65Z" fill="#7a7b80"/>
<path d="M19,44.9 H25.3 Q26.8,44.9 26.8,46.4 V62.7 Q26.8,64.2 25.3,64.2 H19 Q17.5,64.2 17.5,62.7 V46.4 Q17.5,44.9 19,44.9 Z" fill="#ee2229"/>
</g></g>
<g transform="translate(271.5,1270) scale(1.68)"><path fill="#5a9622" d="M12.5,31.3A5.5,5.5 0 0 1 21.0,25.5A3.9,3.9 0 0 1 26.7,21.7A5.7,5.7 0 0 1 34.7,18.4A4.8,4.8 0 0 1 41.5,16.5A4.4,4.4 0 0 1 49.4,14.3A3.9,3.9 0 0 1 56.7,12.3A3.8,3.8 0 0 1 62.7,12.6A4.1,4.1 0 0 1 68.5,15.2A3.9,3.9 0 0 1 74.5,17.9A4.8,4.8 0 0 1 82.1,13.9A5.2,5.2 0 0 1 87.7,8.3A3.3,3.3 0 0 1 93.6,5.5A5.7,5.7 0 0 1 103.1,2.6A6.3,6.3 0 0 1 113.4,2.6A5.7,5.7 0 0 1 121.2,3.0A4.1,4.1 0 0 1 127.4,3.3A4.7,4.7 0 0 1 133.9,3.6A3.6,3.6 0 0 1 138.8,6.8A4.0,4.0 0 0 1 144.3,11.6A3.4,3.4 0 0 1 148.7,15.6A5.0,5.0 0 0 1 153.5,20.4A4.6,4.6 0 0 1 158.3,25.2A4.6,4.6 0 0 1 162.0,32.3A4.9,4.9 0 0 1 165.4,41.3A5.7,5.7 0 0 1 170.5,48.9A5.0,5.0 0 0 1 175.9,54.1A4.6,4.6 0 0 1 182.0,58.7A4.6,4.6 0 0 1 187.8,64.3A4.9,4.9 0 0 1 192.7,69.8A5.2,5.2 0 0 1 196.9,75.5A3.3,3.3 0 0 1 198.2,81.3A3.5,3.5 0 0 1 199.7,88.1A6.0,6.0 0 0 1 202.0,98.0A3.8,3.8 0 0 1 203.3,104.1A5.3,5.3 0 0 1 200.8,111.6A4.7,4.7 0 0 1 197.6,119.5A6.2,6.2 0 0 1 189.6,123.4A4.5,4.5 0 0 1 183.1,124.9A4.3,4.3 0 0 1 178.1,129.6A3.7,3.7 0 0 1 173.3,134.4A5.6,5.6 0 0 1 168.4,140.1A4.5,4.5 0 0 1 163.8,146.3A6.8,6.8 0 0 1 155.4,151.1A5.4,5.4 0 0 1 146.1,153.6A5.4,5.4 0 0 1 136.4,155.2A3.9,3.9 0 0 1 130.8,156.0A3.3,3.3 0 0 1 125.1,156.8A6.6,6.6 0 0 1 116.1,157.6A6.2,6.2 0 0 1 106.2,158.3A4.1,4.1 0 0 1 99.1,160.7A4.7,4.7 0 0 1 92.8,166.3A3.2,3.2 0 0 1 88.4,169.3A5.0,5.0 0 0 1 80.9,168.7A7.4,7.4 0 0 1 70.9,167.9A5.1,5.1 0 0 1 63.7,161.6A5.7,5.7 0 0 1 55.9,156.1A5.7,5.7 0 0 1 46.2,152.6A5.0,5.0 0 0 1 40.0,149.9A3.3,3.3 0 0 1 34.9,146.5A3.3,3.3 0 0 1 29.7,143.0A3.9,3.9 0 0 1 26.6,136.0A5.3,5.3 0 0 1 24.8,127.3A7.3,7.3 0 0 1 22.8,117.4A6.5,6.5 0 0 1 21.6,108.4A5.9,5.9 0 0 1 20.3,99.8A6.9,6.9 0 0 1 16.5,91.4A5.7,5.7 0 0 1 12.9,84.5A4.8,4.8 0 0 1 8.7,77.4A3.2,3.2 0 0 1 5.8,72.4A6.8,6.8 0 0 1 2.6,63.7A4.5,4.5 0 0 1 2.4,57.2A5.1,5.1 0 0 1 5.5,47.7A5.8,5.8 0 0 1 8.4,39.5A5.4,5.4 0 0 1 12.5,31.3Z"/>
<path fill="#6aa82b" d="M19.7,27.4A3.7,3.7 0 0 1 25.5,24.5A4.6,4.6 0 0 1 31.3,22.1A3.7,3.7 0 0 1 36.8,20.7A2.8,2.8 0 0 1 41.6,19.8A4.1,4.1 0 0 1 47.6,19.2A3.7,3.7 0 0 1 54.0,19.2A5.0,5.0 0 0 1 62.5,21.1A2.7,2.7 0 0 1 67.0,24.0A6.1,6.1 0 0 1 71.7,31.6A4.2,4.2 0 0 1 73.4,37.1A4.2,4.2 0 0 1 74.4,43.4A6.1,6.1 0 0 1 75.4,51.7A4.2,4.2 0 0 1 75.9,60.0A3.7,3.7 0 0 1 75.4,66.7A3.2,3.2 0 0 1 74.4,71.7A5.0,5.0 0 0 1 71.6,77.8A4.7,4.7 0 0 1 67.6,82.7A5.2,5.2 0 0 1 60.1,87.3A3.2,3.2 0 0 1 54.6,88.7A3.9,3.9 0 0 1 48.3,90.1A5.4,5.4 0 0 1 39.7,90.1A3.7,3.7 0 0 1 34.8,89.1A3.6,3.6 0 0 1 28.4,87.4A5.7,5.7 0 0 1 21.7,82.6A5.4,5.4 0 0 1 17.2,76.1A3.6,3.6 0 0 1 15.2,71.4A3.5,3.5 0 0 1 13.9,66.6A3.4,3.4 0 0 1 12.9,61.5A5.1,5.1 0 0 1 12.2,52.8A3.5,3.5 0 0 1 12.2,46.9A4.7,4.7 0 0 1 12.6,38.8A5.8,5.8 0 0 1 15.3,30.9A3.0,3.0 0 0 1 19.7,27.4Z M86.5,10.8A3.1,3.1 0 0 1 91.8,8.6A5.8,5.8 0 0 1 99.5,6.5A3.8,3.8 0 0 1 105.3,5.4A3.0,3.0 0 0 1 110.5,5.1A3.0,3.0 0 0 1 115.5,4.8A5.4,5.4 0 0 1 122.7,5.0A3.9,3.9 0 0 1 128.8,6.4A4.9,4.9 0 0 1 136.7,10.4A6.0,6.0 0 0 1 142.9,16.2A6.0,6.0 0 0 1 147.8,23.8A4.5,4.5 0 0 1 150.2,29.3A2.7,2.7 0 0 1 151.4,34.3A3.3,3.3 0 0 1 152.0,39.6A4.9,4.9 0 0 1 150.9,46.4A5.5,5.5 0 0 1 147.4,53.3A4.9,4.9 0 0 1 142.7,58.1A3.0,3.0 0 0 1 137.5,60.8A3.8,3.8 0 0 1 131.4,63.4A4.0,4.0 0 0 1 124.2,65.3A4.2,4.2 0 0 1 116.5,66.1A6.0,6.0 0 0 1 108.5,66.4A5.5,5.5 0 0 1 100.2,64.6A5.6,5.6 0 0 1 93.3,61.5A3.2,3.2 0 0 1 88.7,58.7A5.9,5.9 0 0 1 84.0,51.9A3.7,3.7 0 0 1 81.5,46.4A4.1,4.1 0 0 1 80.7,39.1A4.5,4.5 0 0 1 80.1,32.7A5.9,5.9 0 0 1 80.0,24.7A3.0,3.0 0 0 1 80.7,19.0A3.7,3.7 0 0 1 83.2,13.9A3.0,3.0 0 0 1 86.5,10.8Z M95.2,87.5A3.5,3.5 0 0 1 99.6,83.6A4.5,4.5 0 0 1 104.4,79.4A3.3,3.3 0 0 1 109.4,77.1A4.1,4.1 0 0 1 114.6,74.6A3.7,3.7 0 0 1 120.0,72.0A4.0,4.0 0 0 1 127.0,69.6A3.8,3.8 0 0 1 134.2,67.2A3.7,3.7 0 0 1 139.7,65.4A3.3,3.3 0 0 1 144.4,63.9A4.6,4.6 0 0 1 150.6,62.8A4.0,4.0 0 0 1 158.3,61.7A3.6,3.6 0 0 1 163.8,61.9A3.7,3.7 0 0 1 169.7,63.9A3.6,3.6 0 0 1 174.8,66.5A4.4,4.4 0 0 1 181.5,71.3A4.0,4.0 0 0 1 186.1,76.5A3.3,3.3 0 0 1 187.9,81.4A3.8,3.8 0 0 1 188.9,86.5A3.5,3.5 0 0 1 188.9,93.1A4.5,4.5 0 0 1 187.8,100.2A5.3,5.3 0 0 1 185.5,107.3A3.9,3.9 0 0 1 182.6,111.8A3.0,3.0 0 0 1 178.9,115.9A4.2,4.2 0 0 1 172.6,120.4A4.9,4.9 0 0 1 166.4,122.8A4.5,4.5 0 0 1 160.7,124.8A3.8,3.8 0 0 1 154.6,126.1A4.6,4.6 0 0 1 145.8,127.4A4.5,4.5 0 0 1 139.7,127.7A4.3,4.3 0 0 1 132.4,127.7A4.6,4.6 0 0 1 126.0,127.4A4.4,4.4 0 0 1 119.5,126.0A6.0,6.0 0 0 1 111.5,123.4A4.9,4.9 0 0 1 103.6,118.9A4.5,4.5 0 0 1 98.5,115.0A3.2,3.2 0 0 1 94.8,110.6A4.7,4.7 0 0 1 91.3,103.6A4.0,4.0 0 0 1 90.6,97.9A3.4,3.4 0 0 1 91.6,93.3A3.7,3.7 0 0 1 95.2,87.5Z M43.0,106.4A3.9,3.9 0 0 1 47.6,103.0A4.0,4.0 0 0 1 53.7,100.8A4.3,4.3 0 0 1 60.7,99.6A3.3,3.3 0 0 1 67.2,99.6A3.5,3.5 0 0 1 72.6,99.7A3.7,3.7 0 0 1 78.0,102.1A4.2,4.2 0 0 1 83.2,107.5A5.9,5.9 0 0 1 85.8,115.7A3.5,3.5 0 0 1 86.3,120.7A4.5,4.5 0 0 1 85.7,127.9A4.3,4.3 0 0 1 81.2,134.5A3.1,3.1 0 0 1 76.5,136.4A4.4,4.4 0 0 1 68.3,138.1A2.9,2.9 0 0 1 62.9,138.4A4.5,4.5 0 0 1 55.5,137.9A3.7,3.7 0 0 1 49.0,135.1A4.5,4.5 0 0 1 43.9,129.8A3.8,3.8 0 0 1 41.3,124.3A3.4,3.4 0 0 1 40.0,117.8A4.7,4.7 0 0 1 40.8,110.7A2.5,2.5 0 0 1 43.0,106.4Z"/>
<path fill="#7bb933" d="M22.5,28.4A4.0,4.0 0 0 1 28.8,24.5A4.7,4.7 0 0 1 36.0,22.3A4.8,4.8 0 0 1 42.5,21.4A2.6,2.6 0 0 1 47.2,20.9A3.7,3.7 0 0 1 53.7,21.5A3.7,3.7 0 0 1 59.3,23.5A4.7,4.7 0 0 1 65.2,29.0A2.5,2.5 0 0 1 67.4,33.5A4.3,4.3 0 0 1 69.3,41.2A4.6,4.6 0 0 1 70.5,49.5A5.4,5.4 0 0 1 71.0,56.9A5.2,5.2 0 0 1 69.1,64.4A3.8,3.8 0 0 1 66.3,68.8A4.5,4.5 0 0 1 60.1,74.3A4.5,4.5 0 0 1 54.4,77.2A4.4,4.4 0 0 1 46.4,79.5A5.1,5.1 0 0 1 38.3,79.9A3.4,3.4 0 0 1 33.3,79.0A4.4,4.4 0 0 1 26.6,75.7A5.8,5.8 0 0 1 21.4,69.5A3.1,3.1 0 0 1 19.3,65.2A3.8,3.8 0 0 1 17.3,59.7A5.4,5.4 0 0 1 15.7,52.4A2.7,2.7 0 0 1 15.3,47.2A6.0,6.0 0 0 1 15.9,39.2A3.7,3.7 0 0 1 17.9,33.9A4.3,4.3 0 0 1 22.5,28.4Z M88.3,13.1A3.9,3.9 0 0 1 95.3,10.0A2.8,2.8 0 0 1 100.8,8.8A4.9,4.9 0 0 1 109.1,7.7A3.6,3.6 0 0 1 115.9,7.3A3.5,3.5 0 0 1 121.7,7.9A4.1,4.1 0 0 1 128.6,10.4A4.0,4.0 0 0 1 132.9,15.0A3.4,3.4 0 0 1 134.7,19.9A4.1,4.1 0 0 1 136.3,27.1A3.1,3.1 0 0 1 136.7,31.9A4.8,4.8 0 0 1 136.5,39.6A2.9,2.9 0 0 1 135.5,45.0A5.1,5.1 0 0 1 132.1,51.0A4.7,4.7 0 0 1 125.1,55.6A3.7,3.7 0 0 1 118.5,57.5A3.7,3.7 0 0 1 111.5,58.2A3.8,3.8 0 0 1 105.7,57.9A3.3,3.3 0 0 1 101.2,57.4A3.2,3.2 0 0 1 96.9,55.6A3.1,3.1 0 0 1 92.4,53.1A3.9,3.9 0 0 1 87.4,48.4A3.1,3.1 0 0 1 84.7,42.8A4.3,4.3 0 0 1 83.3,36.5A5.1,5.1 0 0 1 82.9,28.4A3.0,3.0 0 0 1 83.1,23.4A3.6,3.6 0 0 1 84.1,18.0A4.0,4.0 0 0 1 88.3,13.1Z M100.7,84.8A5.6,5.6 0 0 1 107.7,80.6A4.5,4.5 0 0 1 114.3,77.2A3.1,3.1 0 0 1 119.2,74.7A4.2,4.2 0 0 1 126.7,71.7A2.6,2.6 0 0 1 131.1,70.0A3.4,3.4 0 0 1 137.5,68.3A3.6,3.6 0 0 1 143.5,67.0A3.8,3.8 0 0 1 148.9,66.3A3.1,3.1 0 0 1 153.5,66.9A5.1,5.1 0 0 1 159.6,70.8A3.1,3.1 0 0 1 162.1,74.7A3.8,3.8 0 0 1 164.2,81.0A5.2,5.2 0 0 1 165.4,89.1A3.1,3.1 0 0 1 165.5,94.2A3.7,3.7 0 0 1 164.2,99.3A4.3,4.3 0 0 1 161.2,105.5A3.6,3.6 0 0 1 157.0,110.3A4.7,4.7 0 0 1 151.1,114.1A5.7,5.7 0 0 1 143.8,116.5A2.9,2.9 0 0 1 138.7,117.9A4.1,4.1 0 0 1 133.0,118.3A2.9,2.9 0 0 1 127.3,118.7A2.7,2.7 0 0 1 122.6,118.0A4.5,4.5 0 0 1 114.7,116.6A5.2,5.2 0 0 1 107.8,113.6A5.4,5.4 0 0 1 102.3,108.8A3.1,3.1 0 0 1 99.8,105.0A4.5,4.5 0 0 1 97.1,97.8A5.2,5.2 0 0 1 97.1,90.6A3.9,3.9 0 0 1 100.7,84.8Z M52.7,105.2A3.6,3.6 0 0 1 57.9,103.6A4.2,4.2 0 0 1 65.9,102.5A5.1,5.1 0 0 1 72.9,102.5A3.8,3.8 0 0 1 79.0,105.9A3.6,3.6 0 0 1 80.9,112.8A4.4,4.4 0 0 1 81.3,121.2A4.5,4.5 0 0 1 79.5,127.1A4.4,4.4 0 0 1 73.6,131.8A3.9,3.9 0 0 1 66.5,133.3A4.0,4.0 0 0 1 58.6,133.2A3.1,3.1 0 0 1 53.1,130.5A4.8,4.8 0 0 1 49.9,124.2A4.4,4.4 0 0 1 48.9,117.6A3.9,3.9 0 0 1 49.1,111.9A5.2,5.2 0 0 1 52.7,105.2Z"/></g>

<path fill-rule="evenodd" fill="#ffffff" d="M40.4,1306 H198 Q201,1306 201,1309 V1401 Q201,1404.1 198,1404.1 H40.4 Q37.4,1404.1 37.4,1401 V1309 Q37.4,1306 40.4,1306 Z M52,1320.8 V1389.1 H186.4 V1320.8 Z"/>
<path fill="#ffffff" d="M201,1333.6 H211.5 Q214,1333.6 214,1336 V1373.4 Q214,1375.8 211.5,1375.8 H201 Z"/>
<path fill="#ffffff" d="M67,1333.6 H122.5 L144.5,1372 Q146,1376 142,1376 H67 Q65,1376 65,1374 V1335.6 Q65,1333.6 67,1333.6 Z"/>

<text transform="translate(65.49,822.20) scale(0.8108,1.0000)" font-family="Liberation Sans" font-weight="bold" font-size="76" fill="#ffffff" stroke="#ffffff" stroke-width="1.2" stroke-linejoin="round" >Automatic Charging</text>
</g>

<!-- bottom-right -->
<g clip-path="url(#cBR)">
<rect x="730" y="730" width="715" height="715" fill="#90b660"/>
<g fill="#a9cc87">
<polygon points="1112,966.3 1261.5,951.6 1266.5,1008.7 1116.7,1022.3"/>
<polygon points="956.8,1106 1053.3,992.1 1096.6,1028 998.9,1142"/>
<polygon points="700,1217 938.2,1122.3 958.3,1173.6 700,1277"/>
</g>
<g transform="translate(817,1264.6) scale(1.247)">
<g>
<rect x="0" y="0" width="426.7" height="290.8" fill="#3d3d3d"/>
<rect x="-52.1" y="91" width="70" height="109.7" fill="#5a5a5a"/>
<polygon points="-52.1,145.6 67.9,145.6 18.4,200.7 -52.1,200.7" fill="#1c1c1c"/>
<rect x="400" y="91" width="78" height="109.7" fill="#1c1c1c"/>
<polygon points="0,0 132.6,135 132.6,155.7 0,290.8" fill="#5a5a5a"/>
<polygon points="0,0 426.7,0 294.2,135 132.6,135" fill="#3d3d3d"/>
<polygon points="132.6,155.7 294.2,155.7 426.7,290.8 0,290.8" fill="#3d3d3d"/>
<polygon points="426.7,0 294.2,135 294.2,155.7 426.7,290.8" fill="#1c1c1c"/>
<rect x="132.6" y="135" width="161.6" height="20.7" fill="#5a5a5a"/>
<polygon points="-52.1,145.6 67.9,145.6 18.4,200.7 -52.1,200.7" fill="#1c1c1c"/>
<polygon points="407.7,91 478,91 478,145.6 357.5,145.6" fill="#5a5a5a"/>
<rect x="223" y="-158.4" width="158.4" height="158.4" fill="#bdbbb0"/>
<path d="M230.92,-158.40V-126.72M238.84,-158.40V-126.72M246.76,-158.40V-126.72M254.68,-150.48H286.36M254.68,-142.56H286.36M254.68,-134.64H286.36M294.28,-158.40V-126.72M302.20,-158.40V-126.72M310.12,-158.40V-126.72M318.04,-150.48H349.72M318.04,-142.56H349.72M318.04,-134.64H349.72M357.64,-158.40V-126.72M365.56,-158.40V-126.72M373.48,-158.40V-126.72M223.00,-118.80H254.68M223.00,-110.88H254.68M223.00,-102.96H254.68M262.60,-126.72V-95.04M270.52,-126.72V-95.04M278.44,-126.72V-95.04M286.36,-118.80H318.04M286.36,-110.88H318.04M286.36,-102.96H318.04M325.96,-126.72V-95.04M333.88,-126.72V-95.04M341.80,-126.72V-95.04M349.72,-118.80H381.40M349.72,-110.88H381.40M349.72,-102.96H381.40M230.92,-95.04V-63.36M238.84,-95.04V-63.36M246.76,-95.04V-63.36M254.68,-87.12H286.36M254.68,-79.20H286.36M254.68,-71.28H286.36M294.28,-95.04V-63.36M302.20,-95.04V-63.36M310.12,-95.04V-63.36M318.04,-87.12H349.72M318.04,-79.20H349.72M318.04,-71.28H349.72M357.64,-95.04V-63.36M365.56,-95.04V-63.36M373.48,-95.04V-63.36M223.00,-55.44H254.68M223.00,-47.52H254.68M223.00,-39.60H254.68M262.60,-63.36V-31.68M270.52,-63.36V-31.68M278.44,-63.36V-31.68M286.36,-55.44H318.04M286.36,-47.52H318.04M286.36,-39.60H318.04M325.96,-63.36V-31.68M333.88,-63.36V-31.68M341.80,-63.36V-31.68M349.72,-55.44H381.40M349.72,-47.52H381.40M349.72,-39.60H381.40M230.92,-31.68V-0.00M238.84,-31.68V-0.00M246.76,-31.68V-0.00M254.68,-23.76H286.36M254.68,-15.84H286.36M254.68,-7.92H286.36M294.28,-31.68V-0.00M302.20,-31.68V-0.00M310.12,-31.68V-0.00M318.04,-23.76H349.72M318.04,-15.84H349.72M318.04,-7.92H349.72M357.64,-31.68V-0.00M365.56,-31.68V-0.00M373.48,-31.68V-0.00M223.00,-158.40V0.00M223.00,-158.40H381.40M254.68,-158.40V0.00M223.00,-126.72H381.40M286.36,-158.40V0.00M223.00,-95.04H381.40M318.04,-158.40V0.00M223.00,-63.36H381.40M349.72,-158.40V0.00M223.00,-31.68H381.40M381.40,-158.40V0.00M223.00,0.00H381.40" stroke="#46453f" stroke-width="1.3" fill="none"/>
</g></g>
<g transform="translate(760.6,945)"><path fill="#5a9622" d="M12.5,31.3A3.5,3.5 0 0 1 17.4,28.0A6.1,6.1 0 0 1 24.4,23.2A3.8,3.8 0 0 1 30.6,19.5A6.9,6.9 0 0 1 39.8,17.0A4.8,4.8 0 0 1 49.0,14.4A5.4,5.4 0 0 1 58.5,11.8A3.2,3.2 0 0 1 64.0,13.2A7.1,7.1 0 0 1 72.9,17.2A5.1,5.1 0 0 1 80.9,15.1A6.0,6.0 0 0 1 88.0,8.0A4.3,4.3 0 0 1 93.5,5.5A3.7,3.7 0 0 1 99.8,3.6A3.7,3.7 0 0 1 105.7,2.2A3.6,3.6 0 0 1 111.4,2.5A6.7,6.7 0 0 1 121.1,3.0A6.5,6.5 0 0 1 130.6,3.5A5.4,5.4 0 0 1 138.2,6.3A5.6,5.6 0 0 1 145.4,12.6A5.0,5.0 0 0 1 151.7,18.6A3.8,3.8 0 0 1 156.6,23.5A4.3,4.3 0 0 1 160.9,27.8A4.0,4.0 0 0 1 162.2,33.6A6.2,6.2 0 0 1 165.9,41.9A3.6,3.6 0 0 1 169.5,47.4A4.3,4.3 0 0 1 174.1,52.7A5.3,5.3 0 0 1 180.2,57.3A3.7,3.7 0 0 1 184.7,60.8A3.6,3.6 0 0 1 189.2,65.9A4.3,4.3 0 0 1 193.8,71.1A6.3,6.3 0 0 1 197.7,79.0A4.1,4.1 0 0 1 199.3,86.2A3.9,3.9 0 0 1 200.9,93.1A5.9,5.9 0 0 1 203.1,103.1A5.2,5.2 0 0 1 201.2,110.6A6.9,6.9 0 0 1 197.6,119.6A4.2,4.2 0 0 1 190.7,123.2A3.1,3.1 0 0 1 185.0,124.4A4.1,4.1 0 0 1 179.1,128.7A4.5,4.5 0 0 1 173.6,134.1A5.9,5.9 0 0 1 167.6,141.2A3.9,3.9 0 0 1 163.2,147.0A5.0,5.0 0 0 1 155.7,151.0A4.5,4.5 0 0 1 147.8,153.2A4.9,4.9 0 0 1 141.3,154.5A6.6,6.6 0 0 1 131.7,155.9A3.2,3.2 0 0 1 125.7,156.7A7.1,7.1 0 0 1 116.2,157.6A3.4,3.4 0 0 1 109.8,158.1A3.3,3.3 0 0 1 104.2,158.5A4.7,4.7 0 0 1 98.6,161.2A6.5,6.5 0 0 1 91.6,167.3A6.6,6.6 0 0 1 82.2,168.8A3.4,3.4 0 0 1 76.6,168.3A4.2,4.2 0 0 1 69.2,166.4A5.2,5.2 0 0 1 63.2,161.2A4.9,4.9 0 0 1 55.5,156.0A3.6,3.6 0 0 1 49.4,153.8A4.8,4.8 0 0 1 41.9,151.1A3.7,3.7 0 0 1 35.8,147.1A5.7,5.7 0 0 1 27.9,141.7A4.8,4.8 0 0 1 26.4,135.0A6.8,6.8 0 0 1 24.3,125.1A4.3,4.3 0 0 1 23.0,118.3A4.4,4.4 0 0 1 22.0,111.7A5.5,5.5 0 0 1 20.8,102.9A4.2,4.2 0 0 1 18.5,95.3A4.0,4.0 0 0 1 15.7,89.9A5.2,5.2 0 0 1 11.6,82.3A4.1,4.1 0 0 1 8.5,77.1A6.8,6.8 0 0 1 3.8,69.0A5.4,5.4 0 0 1 2.0,60.3A5.9,5.9 0 0 1 4.3,51.3A5.9,5.9 0 0 1 7.0,43.2A4.4,4.4 0 0 1 9.9,36.5A3.2,3.2 0 0 1 12.5,31.3Z"/>
<path fill="#6aa82b" d="M19.7,27.4A5.5,5.5 0 0 1 26.8,23.8A6.3,6.3 0 0 1 35.0,21.2A5.1,5.1 0 0 1 43.0,19.7A4.1,4.1 0 0 1 50.8,18.9A5.4,5.4 0 0 1 59.2,19.8A4.9,4.9 0 0 1 66.1,23.1A5.1,5.1 0 0 1 70.8,29.1A4.3,4.3 0 0 1 72.9,35.5A4.1,4.1 0 0 1 74.2,41.6A5.3,5.3 0 0 1 75.3,49.0A3.3,3.3 0 0 1 75.6,54.3A4.0,4.0 0 0 1 75.9,61.0A6.0,6.0 0 0 1 74.9,69.1A4.3,4.3 0 0 1 72.5,76.4A5.0,5.0 0 0 1 68.0,82.4A3.6,3.6 0 0 1 63.0,85.7A4.6,4.6 0 0 1 56.9,88.1A3.6,3.6 0 0 1 50.3,89.9A5.6,5.6 0 0 1 42.8,90.1A3.9,3.9 0 0 1 36.3,89.5A4.0,4.0 0 0 1 28.8,87.5A4.9,4.9 0 0 1 21.7,82.6A3.3,3.3 0 0 1 18.2,78.3A3.8,3.8 0 0 1 15.2,71.3A4.9,4.9 0 0 1 13.3,63.4A3.9,3.9 0 0 1 12.2,57.0A4.7,4.7 0 0 1 12.2,50.0A5.3,5.3 0 0 1 12.4,41.0A2.9,2.9 0 0 1 12.9,36.0A3.8,3.8 0 0 1 16.4,30.0A3.0,3.0 0 0 1 19.7,27.4Z M86.5,10.8A6.0,6.0 0 0 1 94.6,7.4A4.1,4.1 0 0 1 101.6,6.1A3.3,3.3 0 0 1 107.4,5.2A4.8,4.8 0 0 1 115.6,4.8A4.0,4.0 0 0 1 122.1,4.9A3.5,3.5 0 0 1 127.8,6.1A3.5,3.5 0 0 1 132.9,7.8A5.4,5.4 0 0 1 139.7,12.4A4.9,4.9 0 0 1 144.9,18.8A5.5,5.5 0 0 1 148.5,25.4A4.9,4.9 0 0 1 151.1,31.7A3.7,3.7 0 0 1 151.9,38.9A4.1,4.1 0 0 1 151.3,44.6A6.3,6.3 0 0 1 147.9,52.7A4.4,4.4 0 0 1 143.7,57.5A4.1,4.1 0 0 1 137.1,61.1A5.9,5.9 0 0 1 129.3,63.9A5.5,5.5 0 0 1 121.2,65.8A3.5,3.5 0 0 1 114.3,66.2A3.1,3.1 0 0 1 108.2,66.4A5.3,5.3 0 0 1 101.2,64.8A3.6,3.6 0 0 1 96.0,63.2A4.7,4.7 0 0 1 88.9,58.8A3.3,3.3 0 0 1 85.1,53.9A4.5,4.5 0 0 1 81.5,46.3A3.4,3.4 0 0 1 80.9,40.3A4.5,4.5 0 0 1 80.2,33.9A3.5,3.5 0 0 1 80.0,27.9A3.6,3.6 0 0 1 80.1,21.2A4.1,4.1 0 0 1 81.5,15.7A4.9,4.9 0 0 1 86.5,10.8Z M95.2,87.5A3.7,3.7 0 0 1 99.4,83.8A4.4,4.4 0 0 1 106.2,78.6A4.9,4.9 0 0 1 113.0,75.4A5.5,5.5 0 0 1 120.3,71.8A5.6,5.6 0 0 1 127.6,69.4A5.0,5.0 0 0 1 135.9,66.7A6.1,6.1 0 0 1 143.7,64.1A5.3,5.3 0 0 1 151.9,62.6A3.6,3.6 0 0 1 157.6,61.8A5.5,5.5 0 0 1 165.2,62.4A3.6,3.6 0 0 1 171.8,64.9A5.4,5.4 0 0 1 178.8,68.9A4.4,4.4 0 0 1 183.8,73.3A4.9,4.9 0 0 1 187.7,80.8A5.1,5.1 0 0 1 188.9,87.8A3.6,3.6 0 0 1 188.9,93.8A3.6,3.6 0 0 1 187.9,99.6A3.5,3.5 0 0 1 186.5,104.9A4.8,4.8 0 0 1 183.1,111.0A2.8,2.8 0 0 1 180.1,115.0A4.2,4.2 0 0 1 174.5,119.0A3.3,3.3 0 0 1 169.7,121.6A4.4,4.4 0 0 1 163.2,124.0A4.9,4.9 0 0 1 156.5,125.8A4.1,4.1 0 0 1 149.4,126.9A6.0,6.0 0 0 1 140.9,127.7A3.0,3.0 0 0 1 136.0,127.7A5.3,5.3 0 0 1 127.5,127.7A3.9,3.9 0 0 1 120.8,126.3A4.5,4.5 0 0 1 113.8,124.7A5.7,5.7 0 0 1 107.0,121.0A5.6,5.6 0 0 1 100.1,116.2A4.5,4.5 0 0 1 95.6,111.6A3.8,3.8 0 0 1 92.2,106.0A5.1,5.1 0 0 1 90.6,97.3A2.9,2.9 0 0 1 92.1,92.5A3.8,3.8 0 0 1 95.2,87.5Z M43.0,106.4A4.9,4.9 0 0 1 49.0,101.9A5.5,5.5 0 0 1 57.0,100.1A2.8,2.8 0 0 1 62.0,99.6A5.3,5.3 0 0 1 70.0,99.6A5.2,5.2 0 0 1 78.1,102.1A4.7,4.7 0 0 1 82.9,106.9A2.7,2.7 0 0 1 85.0,111.5A3.4,3.4 0 0 1 86.1,117.6A2.5,2.5 0 0 1 86.1,122.5A4.0,4.0 0 0 1 85.7,128.1A6.2,6.2 0 0 1 80.4,134.8A4.9,4.9 0 0 1 73.4,137.5A4.5,4.5 0 0 1 65.8,138.4A5.8,5.8 0 0 1 57.6,138.0A6.0,6.0 0 0 1 49.5,135.4A4.6,4.6 0 0 1 44.3,130.3A4.2,4.2 0 0 1 41.1,123.7A4.3,4.3 0 0 1 40.0,116.3A6.2,6.2 0 0 1 43.0,106.4Z"/>
<path fill="#7bb933" d="M22.5,28.4A3.1,3.1 0 0 1 27.4,25.3A3.1,3.1 0 0 1 33.2,23.1A4.8,4.8 0 0 1 40.1,21.6A4.6,4.6 0 0 1 48.2,20.8A3.2,3.2 0 0 1 52.9,21.4A3.6,3.6 0 0 1 59.2,23.5A2.4,2.4 0 0 1 63.0,26.1A3.5,3.5 0 0 1 66.0,30.2A5.2,5.2 0 0 1 68.6,37.4A4.8,4.8 0 0 1 69.8,44.1A5.5,5.5 0 0 1 70.6,52.2A3.2,3.2 0 0 1 70.7,58.4A3.0,3.0 0 0 1 69.5,62.8A4.0,4.0 0 0 1 66.8,68.1A4.2,4.2 0 0 1 62.1,73.0A6.0,6.0 0 0 1 55.0,77.0A4.7,4.7 0 0 1 46.9,79.3A4.7,4.7 0 0 1 40.6,79.8A4.1,4.1 0 0 1 34.5,79.3A2.5,2.5 0 0 1 29.7,78.0A3.5,3.5 0 0 1 24.3,73.6A3.5,3.5 0 0 1 21.3,69.3A3.6,3.6 0 0 1 19.0,64.7A2.4,2.4 0 0 1 17.5,60.3A2.6,2.6 0 0 1 16.2,55.9A4.9,4.9 0 0 1 15.4,48.8A2.7,2.7 0 0 1 15.5,43.8A5.9,5.9 0 0 1 17.2,35.7A3.0,3.0 0 0 1 19.6,31.5A2.2,2.2 0 0 1 22.5,28.4Z M88.3,13.1A3.5,3.5 0 0 1 93.8,10.6A4.1,4.1 0 0 1 100.3,8.9A4.5,4.5 0 0 1 106.4,7.8A4.3,4.3 0 0 1 113.6,7.4A3.4,3.4 0 0 1 118.7,7.1A5.0,5.0 0 0 1 126.1,9.1A4.2,4.2 0 0 1 130.7,12.6A4.9,4.9 0 0 1 134.2,18.6A4.0,4.0 0 0 1 136.1,25.3A3.1,3.1 0 0 1 136.7,31.4A3.4,3.4 0 0 1 136.7,37.5A4.6,4.6 0 0 1 135.5,44.9A5.2,5.2 0 0 1 131.1,51.7A5.3,5.3 0 0 1 124.8,55.7A4.9,4.9 0 0 1 118.3,57.6A2.9,2.9 0 0 1 112.6,58.1A3.4,3.4 0 0 1 107.8,58.2A5.8,5.8 0 0 1 99.6,56.8A5.2,5.2 0 0 1 93.1,53.7A5.0,5.0 0 0 1 87.4,48.4A3.3,3.3 0 0 1 84.8,43.2A4.9,4.9 0 0 1 83.3,36.5A5.9,5.9 0 0 1 82.9,28.2A5.2,5.2 0 0 1 83.6,20.5A6.4,6.4 0 0 1 88.3,13.1Z M100.7,84.8A3.5,3.5 0 0 1 105.7,81.8A3.1,3.1 0 0 1 109.9,79.3A4.0,4.0 0 0 1 115.9,76.3A4.8,4.8 0 0 1 122.9,73.2A2.9,2.9 0 0 1 127.9,71.2A3.8,3.8 0 0 1 135.0,69.0A6.1,6.1 0 0 1 143.0,67.1A3.2,3.2 0 0 1 148.4,66.4A3.5,3.5 0 0 1 155.0,67.5A4.5,4.5 0 0 1 160.3,71.8A4.4,4.4 0 0 1 163.1,77.4A2.9,2.9 0 0 1 164.7,82.5A3.6,3.6 0 0 1 165.3,88.0A4.3,4.3 0 0 1 165.2,95.4A4.8,4.8 0 0 1 163.1,102.8A3.2,3.2 0 0 1 159.5,108.0A2.4,2.4 0 0 1 155.8,111.1A5.7,5.7 0 0 1 149.2,115.0A5.4,5.4 0 0 1 142.0,117.0A3.4,3.4 0 0 1 136.6,118.1A4.4,4.4 0 0 1 129.8,118.5A4.5,4.5 0 0 1 121.9,117.9A5.5,5.5 0 0 1 114.0,116.3A4.0,4.0 0 0 1 108.0,113.7A4.7,4.7 0 0 1 103.2,109.6A4.7,4.7 0 0 1 99.3,104.1A3.7,3.7 0 0 1 97.3,99.2A3.9,3.9 0 0 1 96.6,94.0A2.8,2.8 0 0 1 98.0,89.2A2.6,2.6 0 0 1 100.7,84.8Z M52.7,105.2A3.9,3.9 0 0 1 57.8,103.6A3.5,3.5 0 0 1 62.9,102.8A2.9,2.9 0 0 1 67.8,102.5A2.9,2.9 0 0 1 72.5,102.5A3.5,3.5 0 0 1 78.5,105.3A5.8,5.8 0 0 1 80.8,112.7A4.7,4.7 0 0 1 81.4,119.0A4.5,4.5 0 0 1 79.7,126.9A4.0,4.0 0 0 1 73.6,131.8A2.7,2.7 0 0 1 68.9,132.9A4.0,4.0 0 0 1 62.1,133.3A4.3,4.3 0 0 1 56.2,132.5A3.6,3.6 0 0 1 52.0,129.8A5.8,5.8 0 0 1 49.3,122.0A2.8,2.8 0 0 1 48.7,116.5A4.7,4.7 0 0 1 49.4,109.8A3.8,3.8 0 0 1 52.7,105.2Z"/></g>
<g transform="translate(1342,971)"><g transform="translate(-62,-51)">
<path d="M9.04,51.12 L9.26,48.68 L9.53,46.29 L9.84,43.96 L10.20,41.70 L10.60,39.50 L11.17,37.19 L11.92,34.76 L12.85,32.23 L13.95,29.58 L15.28,27.08 L16.84,24.74 L18.64,22.56 L20.66,20.54 L22.76,18.90 L24.94,17.65 L27.19,16.79 L29.51,16.31 L32.04,15.96 L34.76,15.72 L37.69,15.60 L40.81,15.60 L43.50,15.66 L45.75,15.77 L47.56,15.94 L48.94,16.16 L50.21,16.45 L51.37,16.80 L52.43,17.21 L53.38,17.69 L54.29,17.83 L55.16,17.64 L56.00,17.12 L56.80,16.27 L57.60,15.44 L58.40,14.63 L59.20,13.84 L60.00,13.06 L61.38,12.44 L63.34,11.96 L65.89,11.64 L69.01,11.46 L72.53,11.37 L76.42,11.37 L80.71,11.46 L85.39,11.64 L89.48,11.92 L92.98,12.31 L95.89,12.80 L98.21,13.40 L100.35,14.36 L102.30,15.67 L104.06,17.34 L105.64,19.36 L107.09,21.54 L108.41,23.88 L109.61,26.38 L110.69,29.03 L111.57,31.99 L112.28,35.26 L112.79,38.85 L113.11,42.75 L113.27,46.84 L113.27,51.13 L113.11,55.61 L112.79,60.29 L112.28,64.49 L111.57,68.23 L110.69,71.50 L109.61,74.30 L108.22,76.79 L106.51,78.96 L104.48,80.82 L102.12,82.38 L99.19,83.74 L95.68,84.91 L91.59,85.90 L86.91,86.70 L82.63,87.22 L78.74,87.46 L75.25,87.41 L72.15,87.09 L69.43,86.71 L67.09,86.29 L65.14,85.81 L63.56,85.29 L62.12,85.08 L60.81,85.19 L59.62,85.62 L58.57,86.38 L57.65,87.00 L56.85,87.50 L56.18,87.88 L55.62,88.12 L54.44,88.47 L52.61,88.91 L50.15,89.44 L47.05,90.06 L43.95,90.45 L40.85,90.60 L37.75,90.51 L34.65,90.19 L31.54,89.52 L28.43,88.51 L25.31,87.15 L22.19,85.45 L19.45,83.59 L17.10,81.56 L15.14,79.38 L13.56,77.03 L12.26,74.67 L11.22,72.31 L10.45,69.94 L9.95,67.56 L9.54,65.21 L9.23,62.87 L9.01,60.55 L8.89,58.25 L8.85,55.91 L8.90,53.54Z" fill="#77787d" stroke="#5f6862" stroke-width="1"/>
<path d="M14.20,32.72 L16.40,28.38 L19.52,24.95 L23.58,22.45 L26.38,21.50 L27.92,22.10 L31.35,21.95 L36.65,21.05 L39.60,20.35 L40.20,19.85 L42.52,20.30 L46.58,21.70 L49.55,23.02 L51.45,24.27 L53.05,24.90 L54.35,24.90 L58.12,24.27 L64.38,23.02 L69.53,20.22 L73.57,15.87 L79.80,14.17 L88.20,15.12 L93.95,16.23 L97.05,17.48 L100.15,20.12 L103.25,24.17 L105.60,27.75 L107.20,30.85 L104.40,33.65 L97.20,36.15 L93.30,38.65 L92.70,41.15 L92.55,44.72 L92.85,49.38 L93.47,52.95 L94.43,55.45 L98.80,57.48 L106.60,59.02 L110.33,62.45 L109.97,67.75 L108.55,72.28 L106.05,76.03 L99.82,79.45 L89.88,82.55 L82.10,82.22 L76.50,78.47 L71.53,76.92 L67.17,77.58 L63.25,78.53 L59.75,79.78 L55.65,81.80 L50.95,84.60 L47.83,85.85 L46.27,85.55 L43.17,85.40 L38.53,85.40 L35.40,85.85 L33.80,86.75 L31.15,86.58 L27.45,85.33 L23.58,82.68 L19.52,78.62 L17.02,75.05 L16.07,71.95 L14.95,69.55 L13.65,67.85 L13.03,58.98 L13.07,42.92Z" fill="#47474b" stroke="#3a3a3d" stroke-width="0.6"/>
<path d="M15.75,41.47 L25.25,40.83 L33.10,39.73 L39.30,38.17 L45.55,37.40 L51.85,37.40 L58.90,37.88 L66.70,38.82 L72.15,40.38 L75.25,42.53 L77.10,44.85 L77.70,47.35 L77.70,50.95 L77.10,55.65 L75.25,59.08 L72.15,61.22 L66.70,63.22 L58.90,65.08 L51.85,66.33 L45.55,66.97 L39.30,67.15 L33.10,66.85 L26.40,66.85 L19.20,67.15 L14.45,67.22 L12.15,67.08 L11.00,60.70 L11.00,48.10Z" fill="#7a7b80"/>
<path d="M97.32,36.62 L104.78,35.07 L109.12,35.70 L110.38,38.50 L111.00,44.42 L111.00,53.48 L110.62,58.45 L109.88,59.35 L105.85,59.02 L98.55,57.48 L94.43,55.45 L93.47,52.95 L92.85,49.38 L92.55,44.72 L92.70,41.15 L93.30,38.65Z" fill="#7a7b80"/>
<path d="M19,44.9 H25.3 Q26.8,44.9 26.8,46.4 V62.7 Q26.8,64.2 25.3,64.2 H19 Q17.5,64.2 17.5,62.7 V46.4 Q17.5,44.9 19,44.9 Z" fill="#ee2229"/>
</g></g>
<text transform="translate(902.42,817.50) scale(0.8201,1.0000)" font-family="Liberation Sans" font-weight="bold" font-size="76" fill="#ffffff" stroke="#ffffff" stroke-width="1.2" stroke-linejoin="round" >Randomized</text>
<text transform="translate(854.00,897.00) scale(0.8247,1.0000)" font-family="Liberation Sans" font-weight="bold" font-size="76" fill="#ffffff" stroke="#ffffff" stroke-width="1.2" stroke-linejoin="round" >Mowing Pattern</text>
</g>
<!-- panel outlines -->
<g fill="none" stroke="#809b64" stroke-width="1.0">
<rect x="730.6" y="-5" width="720" height="719.4"/>
<rect x="-5" y="730.6" width="719.4" height="720"/>
<rect x="730.6" y="730.6" width="720" height="720"/>
</g>
</svg>
</body></html>
